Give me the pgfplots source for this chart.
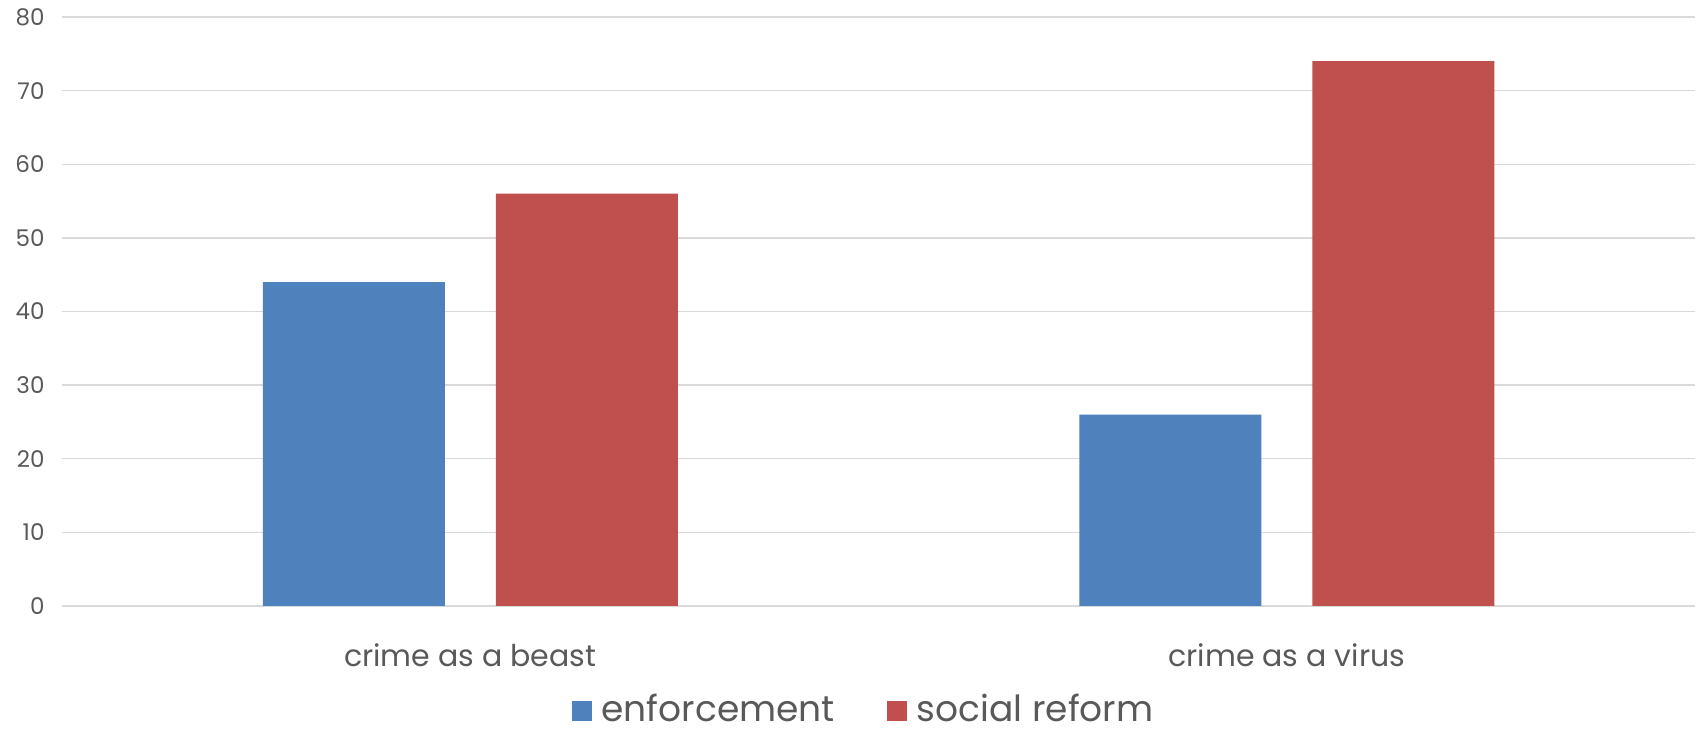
\documentclass[border=0pt]{standalone}
\usepackage{pgfplots}
\pgfplotsset{compat=1.18}
\usepackage{fontspec}
\setmainfont{Poppins}
\definecolor{barblue}{HTML}{4F81BD}
\definecolor{barred}{HTML}{C0504D}
\definecolor{txtgray}{HTML}{595959}
\definecolor{gridgray}{HTML}{D9D9D9}
\begin{document}
\begin{tikzpicture}[x=1pt,y=1pt]
\path[use as bounding box] (0,0) rectangle (1698,730);
\begin{axis}[
  at={(62pt,124pt)}, anchor=south west,
  scale only axis, width=1633pt, height=589pt,
  xmin=-0.5, xmax=1.5, ymin=0, ymax=80,
  ytick={0,10,...,80},
  xtick={0,1},
  xticklabels={crime as a beast, crime as a virus},
  ymajorgrids,
  grid style={gridgray, line width=1.4pt},
  axis line style={draw=none},
  tick style={draw=none},
  /pgf/number format/assume math mode=true,
  yticklabel style={font=\fontsize{23}{27}\selectfont, text=txtgray, xshift=-14pt},
  xticklabel style={font=\fontsize{30}{36}\selectfont, text=txtgray, anchor=base, yshift=-56pt},
  ybar=51pt, bar width=182pt,
  legend style={at={(0.5,-0.205)}, anchor=south, xshift=-15pt, draw=none, fill=none,
    legend columns=2, font=\fontsize{36}{42}\selectfont, text=txtgray,
    /tikz/every odd column/.append style={column sep=8pt},
    /tikz/every even column/.append style={column sep=50pt}},
  legend image code/.code={\fill[#1] (0pt,-13pt) rectangle (20pt,7pt);},
  clip=false,
]
\addplot[fill=barblue, draw=none] coordinates {(0,44) (1,26)};
\addplot[fill=barred, draw=none] coordinates {(0,56) (1,74)};
\legend{enforcement, social reform}
\end{axis}
\end{tikzpicture}
\end{document}
